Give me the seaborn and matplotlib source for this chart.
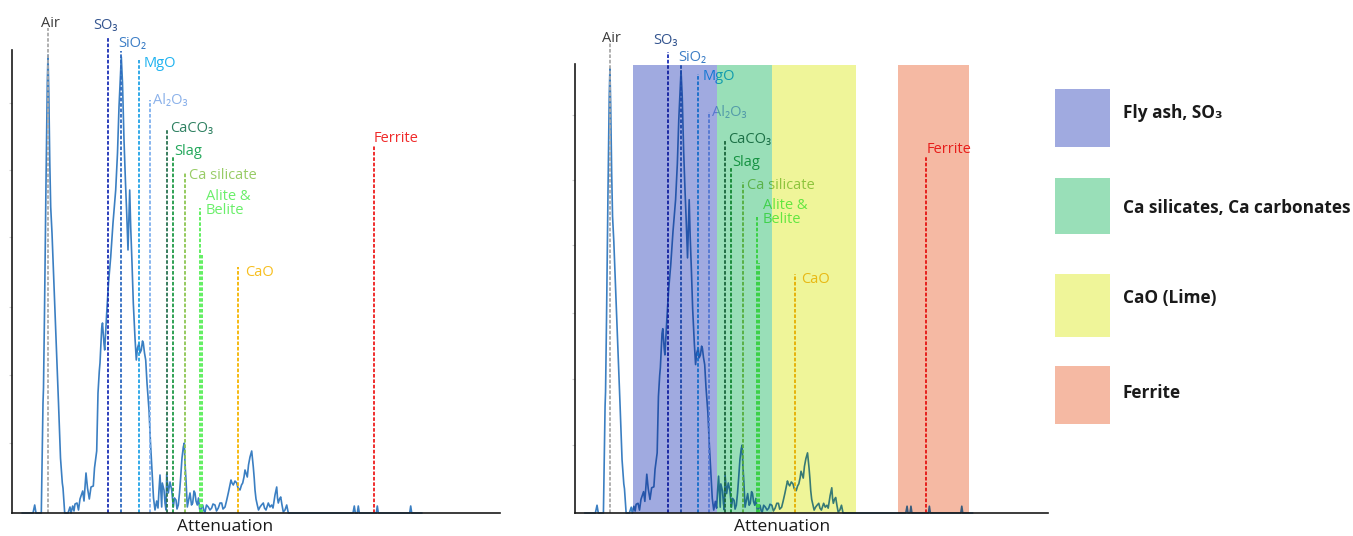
import matplotlib
matplotlib.use("Agg")
import matplotlib.pyplot as plt
import seaborn as sns
import numpy as np
import pandas as pd
from matplotlib.transforms import Bbox, TransformedBbox
from matplotlib.colors import to_rgb
from matplotlib.patches import Rectangle

sns.set_theme(style="white")
plt.rcParams["font.family"] = ["Open Sans", "DejaVu Sans"]

# ---------------- data ----------------
spec_x = [10, 21, 22.7, 24, 29.3, 31, 31.5, 32.5, 34, 35.3, 36, 36.8, 37.8, 38.7, 40, 41.5, 43.7, 45, 46.5, 48,
          48.5, 50.3, 51, 52.7, 56, 58, 59, 60.7, 62, 63, 65, 66.5, 68, 70.7, 72, 74, 75.5, 77.3, 79, 81.3,
          82.5, 84.7, 86, 87.3, 88, 89.7, 90.5, 92, 92.7, 94.7, 96.5, 98.7, 101, 103.7, 105.5, 107, 108.5, 109.3,
          110.5, 112, 113.5, 114.7, 116, 117, 117.7, 118.7, 120, 121.3, 123, 124.3, 125.5, 127, 128, 129.3,
          130.5, 131.3, 132.5, 133.7, 135, 137, 138.5, 140.3, 141.5, 143, 144.7, 146, 147, 148, 149.7, 150.3,
          152, 153, 154, 154.7, 156.3, 158, 159.7, 161.3, 162.5, 164, 165, 166.3, 167.5, 168.7, 170, 171.3,
          172.3, 173, 174, 175.3, 176.5, 178, 179.5, 180.7, 182, 183, 184, 185.3, 186.5, 188, 189.5, 190.7,
          192, 193, 194.5, 196.3, 198, 199.7, 201, 203, 204.5, 206.3, 208, 209.7, 211, 213, 214.5, 216.3,
          217.5, 219, 220, 221.3, 223, 224.7, 226, 228, 229.5, 230.7, 232, 233, 234, 235.3, 236.5, 238, 239.7,
          241.3, 242.2, 243, 244, 245.3, 246.5, 248, 249.5, 251.3, 252.5, 254, 255, 256.3, 258, 259.7, 261,
          263, 264.7, 265.5, 266.3, 267.5, 268.7, 270, 271.3, 273, 274.7, 275.5, 276.3, 341, 342.3, 343.3,
          345.3, 346.3, 347.3, 364.3, 365.3, 366.3, 397.7, 398.7, 399.7, 410]
spec_y = [0, 0, 8, 0, 0, 110, 125, 200, 330, 430, 458, 420, 350, 306, 280, 240, 183, 150, 110, 70,
          55, 30, 25, 0, 0, 6, 0, 7, 2, 9, 10, 3, 14, 22, 12, 40, 25, 14, 26, 27,
          45, 62, 120, 142, 150, 185, 190, 169, 163, 200, 230, 256, 290, 323, 360, 406, 440, 456,
          430, 373, 330, 300, 263, 300, 323, 286, 250, 210, 175, 153, 165, 170, 160, 163,
          172, 170, 160, 153, 130, 103, 70, 36, 15, 3, 12, 5, 23, 38, 6, 30,
          23, 10, 3, 39, 20, 31, 23, 6, 15, 13, 4, 8, 20, 36, 55, 66,
          70, 50, 33, 6, 12, 20, 8, 10, 22, 20, 12, 8, 15, 1, 5, 8,
          2, 1, 8, 6, 3, 5, 9, 8, 2, 5, 10, 10, 4, 6, 12, 20,
          26, 33, 30, 28, 32, 30, 25, 23, 28, 30, 36, 43, 40, 36, 48, 56, 62,
          46, 35, 23, 14, 8, 3, 6, 8, 10, 5, 3, 6, 10, 6, 8, 5,
          18, 26, 15, 10, 14, 16, 8, 1, 3, 8, 4, 0, 0, 7, 0,
          0, 7, 0, 0, 7, 0, 0, 7, 0, 0]

peak_names = ["Air", "SO\u2083", "SiO\u2082", "MgO", "Al\u2082O\u2083", "CaCO\u2083", "Slag",
              "Ca silicate", "Alite &\nBelite", "CaO", "Ferrite"]
peak_pos = [36.3, 96.3, 109, 127.3, 138, 154.7, 160.7, 173, 188, 226.3, 362]
peak_top = [485, 475, 462, 453, 413, 383, 356, 341, 305, 246, 368]

band_names = ["Fly ash, SO\u2083", "Ca silicates, Ca carbonates", "CaO (Lime)", "Ferrite"]
band_start = [59.8, 146.4, 203, 333]
band_end = [146.4, 203, 290, 406]
band_top = 462

# ---------------- styles / layout ----------------
spec_color = "#3b7fc2"
line_colors = ["#a9a9a9", "#1b2fb5", "#2f6bc0", "#22a3e6", "#7fb0ee", "#2a7352", "#1e9a45",
               "#8cc652", "#55ee55", "#f5b400", "#ee1c1c"]
label_colors = ["#3c3c3c", "#34558f", "#3d7ec6", "#1db2f0", "#8cb2ea", "#2e8061", "#24a85c",
                "#98cc66", "#6aef6a", "#f7bf1f", "#f02a2a"]
label_x = [38, 81, 106, 132, 141, 158, 162, 177.3, 193.7, 233, 362]
label_y = [486, 484, 466, 446, 409, 381, 358, 334, 299, 237, 371]
label_ha = ["center"] + ["left"] * 10
band_colors = ["#a0aae0", "#99dfb8", "#eff599", "#f5b9a3"]
dash = (0, (2, 1))

W, H = 1353, 536
fig = plt.figure(figsize=(W / 100, H / 100), dpi=100)
fig.patch.set_facecolor("white")


def tint_fn(tint):
    if tint is None:
        return lambda c: c
    t = to_rgb(tint)
    return lambda c: tuple(a * b for a, b in zip(to_rgb(c), t))


def draw_content(ax, tint=None, clip=None, z=2.0):
    f = tint_fn(tint)
    arts = []
    if tint is None:
        sns.lineplot(x=spec_x, y=spec_y, ax=ax, color=spec_color, lw=1.2,
                     sort=False, estimator=None, zorder=z)
        arts.append(ax.lines[-1])
    else:
        ln, = ax.plot(spec_x, spec_y, color=f(spec_color), lw=1.2, zorder=z)
        arts.append(ln)
    for i, name in enumerate(peak_names):
        lc = ax.vlines(peak_pos[i], 0, peak_top[i], colors=[f(line_colors[i])],
                       linestyles=[dash], lw=1.3, zorder=z + 0.1)
        arts.append(lc)
        if name.startswith("Alite"):
            lc2 = ax.vlines(peak_pos[i] + 1.7, 0, 258, colors=[f(line_colors[i])],
                            linestyles=[dash], lw=1.3, zorder=z + 0.1)
            arts.append(lc2)
        t = ax.text(label_x[i], label_y[i], name, color=f(label_colors[i]), fontsize=10.5,
                    ha=label_ha[i], va="baseline", linespacing=0.95, zorder=z + 0.2)
        arts.append(t)
    for a in arts:
        if clip is None:
            a.set_clip_on(False)
        else:
            a.set_clip_on(True)
            a.set_clip_path(None)
            a.set_clip_box(clip)


def style_axes(ax, hpx):
    ax.set_xlim(0, 488)
    ax.set_ylim(0, 500)
    ax.set_facecolor("none")
    for s in ["top", "right"]:
        ax.spines[s].set_visible(False)
    for s in ["left", "bottom"]:
        ax.spines[s].set_color("#1a1a1a")
        ax.spines[s].set_linewidth(1.2)
        ax.spines[s].set_zorder(3.5)
    ax.spines["left"].set_bounds(0, 463)
    ax.set_xticks([])
    ax.set_yticks([70, 138, 206, 276, 343, 410])
    ax.set_yticklabels([])
    ax.tick_params(axis="y", left=True, length=2.5, width=0.8, color="#d0d0d0", direction="out")
    ax.set_xlabel("Attenuation", fontsize=12.5, color="#1a1a1a")
    ax.xaxis.set_label_coords(213.5 / 488, -14 / hpx)
    ax.xaxis.label.set_va("center")
    ax.set_ylabel("")


# left panel
axL = fig.add_axes([12 / W, 23 / H, 488 / W, 500 / H])
style_axes(axL, 500)
draw_content(axL)

# right panel
axR = fig.add_axes([575 / W, 23 / H, 473.4 / W, 485 / H])
style_axes(axR, 485)
draw_content(axR)
axR.bar(band_start, band_top, width=np.subtract(band_end, band_start), align="edge",
        color=band_colors, lw=0, zorder=2.4)
for s, e, c in zip(band_start, band_end, band_colors):
    clip = TransformedBbox(Bbox([[s, 0], [e, band_top]]), axR.transData)
    draw_content(axR, tint=c, clip=clip, z=3.0)

# legend panel
axG = fig.add_axes([0, 0, 1, 1])
axG.set_xlim(0, W)
axG.set_ylim(H, 0)
axG.axis("off")
leg_top = [89, 178, 274, 366]
leg_bot = [147, 234, 337, 424]
leg_base = [118, 213, 303, 398]
for i, name in enumerate(band_names):
    axG.add_patch(Rectangle((1055, leg_top[i]), 55, leg_bot[i] - leg_top[i],
                            facecolor=band_colors[i], edgecolor="none"))
    axG.text(1123, leg_base[i], name, fontsize=12.4, fontweight="bold", color="#1a1a1a",
             ha="left", va="baseline")

fig.savefig("out.png", dpi=100, facecolor="white")
